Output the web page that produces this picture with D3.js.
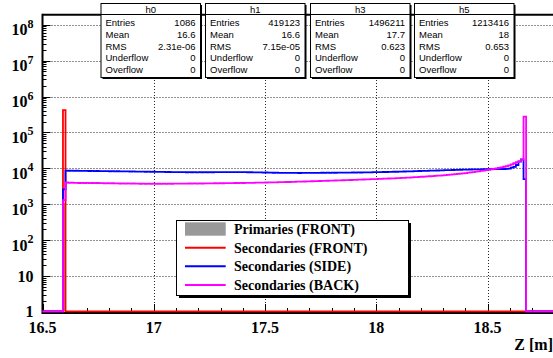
<!DOCTYPE html>
<html><head><meta charset="utf-8">
<script src="https://cdn.jsdelivr.net/npm/d3@7"></script>
<style>
body{margin:0;background:#fff;overflow:hidden}
.serif{font-family:"Liberation Serif","DejaVu Serif","Times New Roman",serif;font-weight:bold}
.sans{font-family:"Liberation Sans",Arial,Helvetica,sans-serif}
</style>
</head><body>
<svg id="c" width="553" height="358"></svg>
<script>
// ---------------- data ----------------
const zMin = 16.5, zMax = 18.8, nBins = 200;
const xTickValues = [16.5, 17, 17.5, 18, 18.5];
const xTickLabels = ["16.5", "17", "17.5", "18", "18.5"];
const yDecades = [0, 1, 2, 3, 4, 5, 6, 7, 8];
const xTitle = "Z [m]";

// histograms: first non-empty bin index + bin contents from there
const primFrontStart = 8;
const primFrontValues = [1086];
const secFrontStart = 8;
const secFrontValues = [419123];
const secSideStart = 8;
const secSideValues = [2600,
  8650, 8580, 8620, 8540, 8600, 8510, 8560, 8480, 8530, 8450,
  8490, 8420, 8460, 8380, 8430, 8350, 8400, 8320, 8360, 8300,
  8330, 8260, 8300, 8220, 8250, 8180, 8210, 8140, 8170, 8100,
  8130, 8060, 8090, 8020, 8050, 7980, 8010, 7940, 7970, 7900,
  7930, 7870, 7900, 7840, 7880, 7820, 7860, 7800, 7840, 7790,
  7820, 7780, 7830, 7790, 7840, 7800, 7850, 7810, 7860, 7820,
  7870, 7830, 7880, 7840, 7890, 7850, 7900, 7860, 7880, 7830,
  7850, 7790, 7800, 7740, 7760, 7700, 7710, 7650, 7670, 7610,
  7620, 7560, 7580, 7520, 7540, 7480, 7500, 7460, 7490, 7450,
  7480, 7440, 7490, 7460, 7510, 7470, 7520, 7490, 7540, 7500,
  7550, 7520, 7570, 7540, 7590, 7560, 7610, 7580, 7630, 7600,
  7650, 7620, 7670, 7650, 7700, 7680, 7730, 7720, 7780, 7770,
  7830, 7820, 7880, 7870, 7930, 7930, 7990, 7990, 8050, 8060,
  8120, 8130, 8190, 8210, 8270, 8290, 8350, 8380, 8440, 8470,
  8530, 8560, 8620, 8650, 8710, 8740, 8800, 8830, 8890, 8920,
  8980, 9010, 9070, 9100, 9150, 9180, 9230, 9260, 9300, 9330,
  9370, 9400, 9430, 9450, 9480, 9500, 9520, 9540, 9560, 9580,
  9600, 9620, 9700, 9900, 10500, 11000, 12400, 15400, 17800, 5000];
const secBackStart = 8;
const secBackValues = [1300,
  4100, 3960, 3990, 3930, 3970, 3910, 3950, 3900, 3940, 3890,
  3920, 3870, 3910, 3860, 3890, 3840, 3870, 3820, 3850, 3800,
  3830, 3790, 3810, 3770, 3800, 3760, 3790, 3740, 3770, 3730,
  3760, 3720, 3750, 3710, 3740, 3700, 3730, 3710, 3740, 3720,
  3750, 3730, 3760, 3740, 3770, 3750, 3780, 3760, 3790, 3770,
  3800, 3780, 3810, 3790, 3820, 3800, 3830, 3820, 3850, 3840,
  3860, 3850, 3880, 3870, 3890, 3890, 3910, 3900, 3930, 3920,
  3950, 3940, 3970, 3970, 3990, 4000, 4010, 4030, 4040, 4060,
  4070, 4090, 4100, 4120, 4130, 4150, 4170, 4180, 4210, 4220,
  4250, 4260, 4290, 4310, 4330, 4350, 4380, 4400, 4420, 4450,
  4470, 4490, 4520, 4540, 4570, 4590, 4620, 4640, 4670, 4690,
  4720, 4750, 4780, 4810, 4840, 4870, 4900, 4930, 4960, 4990,
  5020, 5050, 5090, 5120, 5150, 5190, 5220, 5260, 5290, 5330,
  5370, 5410, 5460, 5510, 5560, 5620, 5670, 5730, 5790, 5850,
  5910, 5970, 6040, 6110, 6180, 6250, 6320, 6400, 6480, 6560,
  6700, 6800, 6910, 7030, 7150, 7280, 7420, 7570, 7730, 7900,
  8080, 8270, 8470, 8690, 8920, 9170, 9440, 9730, 10000, 10300,
  10700, 11100, 11600, 12200, 13000, 13900, 14900, 16000, 17500, 275000];

const statNames   = ["h0", "h1", "h3", "h5"];
const statEntries = ["1086", "419123", "1496211", "1213416"];
const statMeans   = ["16.6", "16.6", "17.7", "18"];
const statRMS     = ["2.31e-06", "7.15e-05", "0.623", "0.653"];
const statUnder   = ["0", "0", "0", "0"];
const statOver    = ["0", "0", "0", "0"];
const statRowLabels = ["Entries", "Mean", "RMS", "Underflow", "Overflow"];

const legendLabels = ["Primaries (FRONT)", "Secondaries (FRONT)", "Secondaries (SIDE)", "Secondaries (BACK)"];
const legendColors = ["#999999", "#ff0000", "#0000ff", "#ff00ff"];

// ---------------- drawing ----------------
(function draw() {
const svg = d3.select("#c");

const pLeft = 42.5, pTop = 14.7, pBottom = 312;
const x = d3.scaleLinear().domain([zMin, zMax]).range([pLeft, pLeft + (zMax - zMin) * 222.5]);
const yMax = Math.pow(10, 8.28);
const y = d3.scaleLog().domain([1, yMax]).range([pBottom, pTop]);
const binW = (zMax - zMin) / nBins;
const edge = i => zMin + i * binW;

// grid
const grid = svg.append("g").attr("stroke", "#000").attr("stroke-width", 1)
  .attr("stroke-dasharray", "1,2").attr("opacity", 0.85);
xTickValues.filter(v => v > zMin).forEach(v => {
  grid.append("line").attr("x1", Math.round(x(v)) + 0.5).attr("x2", Math.round(x(v)) + 0.5)
    .attr("y1", pBottom).attr("y2", pTop);
});
yDecades.filter(k => k > 0).forEach(k => {
  const yy = Math.round(y(Math.pow(10, k))) + 0.5;
  grid.append("line").attr("x1", pLeft).attr("x2", 553).attr("y1", yy).attr("y2", yy);
});

// ticks
const ticks = svg.append("g").attr("stroke", "#000").attr("stroke-width", 1);
for (let k = 0; k <= 8; k++) {
  for (let m = 1; m <= 9; m++) {
    const v = m * Math.pow(10, k);
    if (v > yMax) break;
    const yy = Math.round(y(v)) + 0.5;
    const len = m === 1 ? 8 : 4;
    ticks.append("line").attr("x1", pLeft).attr("x2", pLeft + len).attr("y1", yy).attr("y2", yy);
  }
}
for (let i = 0; i <= 23; i++) {
  const v = zMin + i * 0.1;
  const major = i % 5 === 0;
  const xx = Math.round(x(v)) + 0.5;
  ticks.append("line").attr("x1", xx).attr("x2", xx).attr("y1", pBottom).attr("y2", pBottom - (major ? 8 : 4));
}

// frame
svg.append("line").attr("x1", pLeft).attr("x2", 553).attr("y1", pTop).attr("y2", pTop)
  .attr("stroke", "#000").attr("stroke-width", 2);
svg.append("line").attr("x1", pLeft).attr("x2", 553).attr("y1", pBottom + 1).attr("y2", pBottom + 1)
  .attr("stroke", "#000").attr("stroke-width", 2);
svg.append("line").attr("x1", pLeft).attr("x2", pLeft).attr("y1", pTop - 1).attr("y2", pBottom + 2)
  .attr("stroke", "#000").attr("stroke-width", 2);

// histograms
const yFloor = pBottom - 0.7;
function valAt(start, vals, i) {
  return (i >= start && i < start + vals.length) ? vals[i - start] : 0;
}
function histPath(start, vals) {
  let p = "";
  for (let i = 0; i < nBins; i++) {
    const v = valAt(start, vals, i);
    const yy = v >= 1 ? y(v) : yFloor;
    if (i === 0) p += `M${x(edge(i))},${yy}`; else p += `V${yy}`;
    p += `H${x(edge(i + 1))}`;
  }
  return p;
}
primFrontValues.forEach((v, j) => {
  const i = primFrontStart + j;
  svg.append("rect").attr("x", x(edge(i))).attr("width", x(edge(i + 1)) - x(edge(i)))
    .attr("y", y(v)).attr("height", yFloor - y(v)).attr("fill", legendColors[0]);
});
[[secFrontStart, secFrontValues, legendColors[1]],
 [secSideStart, secSideValues, legendColors[2]],
 [secBackStart, secBackValues, legendColors[3]]].forEach(([s, vals, col]) => {
  svg.append("path").attr("d", histPath(s, vals)).attr("fill", "none")
    .attr("stroke", col).attr("stroke-width", 1.8).attr("stroke-linejoin", "miter");
});

// y labels
yDecades.forEach(k => {
  const yy = y(Math.pow(10, k));
  if (k === 0) {
    svg.append("text").attr("class", "serif").attr("x", 33.5).attr("y", yy + 5).attr("text-anchor", "end")
      .style("font-size", "16px").text("1");
  } else if (k === 1) {
    svg.append("text").attr("class", "serif").attr("x", 33.5).attr("y", yy + 5.5).attr("text-anchor", "end")
      .style("font-size", "16px").text("10");
  } else {
    const t = svg.append("text").attr("class", "serif").attr("x", 33.5).attr("y", yy + 10.5).attr("text-anchor", "end")
      .style("font-size", "16px");
    t.append("tspan").text("10");
    t.append("tspan").attr("dy", -7.5).style("font-size", "12px").text(String(k));
  }
});

// x labels
xTickValues.forEach((v, i) => {
  svg.append("text").attr("class", "serif").attr("x", x(v)).attr("y", 332.5).attr("text-anchor", "middle")
    .style("font-size", "16px").text(xTickLabels[i]);
});
svg.append("text").attr("class", "serif").attr("x", 553).attr("y", 349.5).attr("text-anchor", "end")
  .style("font-size", "16px").text(xTitle);

// legend
const lg = { x: 176, y: 220, w: 232, h: 75 };
svg.append("rect").attr("x", lg.x + 3).attr("y", lg.y + 3).attr("width", lg.w).attr("height", lg.h).attr("fill", "#000");
svg.append("rect").attr("x", lg.x + 0.5).attr("y", lg.y + 0.5).attr("width", lg.w).attr("height", lg.h)
  .attr("fill", "#fff").attr("stroke", "#000").attr("stroke-width", 1);
const rowY = [229, 247.7, 266.3, 285];
legendLabels.forEach((lab, i) => {
  if (i === 0) {
    svg.append("rect").attr("x", 185).attr("y", rowY[i] - 6.7).attr("width", 40.7).attr("height", 13.4)
      .attr("fill", legendColors[i]);
  } else {
    svg.append("line").attr("x1", 185).attr("x2", 225.7).attr("y1", rowY[i]).attr("y2", rowY[i])
      .attr("stroke", legendColors[i]).attr("stroke-width", 2);
  }
  svg.append("text").attr("class", "serif").attr("x", 234).attr("y", rowY[i] + 4.8)
    .style("font-size", "14px").text(lab);
});

// stat boxes
const boxLeft = [101, 205.5, 310.5, 414.5];
const boxW = 99.5, boxTop = 3.5, boxBottom = 77.5, titleSep = 14.5;
const rowCenters = [22.3, 34.2, 46.1, 58, 69.9];
statNames.forEach((nm, b) => {
  const bx = boxLeft[b];
  const g = svg.append("g");
  g.append("rect").attr("x", bx + 1.5).attr("y", boxTop + 1.5).attr("width", boxW).attr("height", boxBottom - boxTop).attr("fill", "#000");
  g.append("rect").attr("x", bx).attr("y", boxTop).attr("width", boxW).attr("height", boxBottom - boxTop)
    .attr("fill", "#fff").attr("stroke", "#000").attr("stroke-width", 1);
  g.append("line").attr("x1", bx).attr("x2", bx + boxW).attr("y1", titleSep).attr("y2", titleSep)
    .attr("stroke", "#000").attr("stroke-width", 1);
  g.append("text").attr("class", "sans").attr("x", bx + boxW / 2).attr("y", 12.6).attr("text-anchor", "middle")
    .style("font-size", "9.5px").text(nm);
  const vals = [statEntries[b], statMeans[b], statRMS[b], statUnder[b], statOver[b]];
  statRowLabels.forEach((lab, r) => {
    g.append("text").attr("class", "sans").attr("x", bx + 4.5).attr("y", rowCenters[r] + 3.4)
      .style("font-size", "9.5px").text(lab);
    g.append("text").attr("class", "sans").attr("x", bx + boxW - 5).attr("y", rowCenters[r] + 3.4).attr("text-anchor", "end")
      .style("font-size", "9.5px").text(vals[r]);
  });
});
})();
</script>
</body></html>
